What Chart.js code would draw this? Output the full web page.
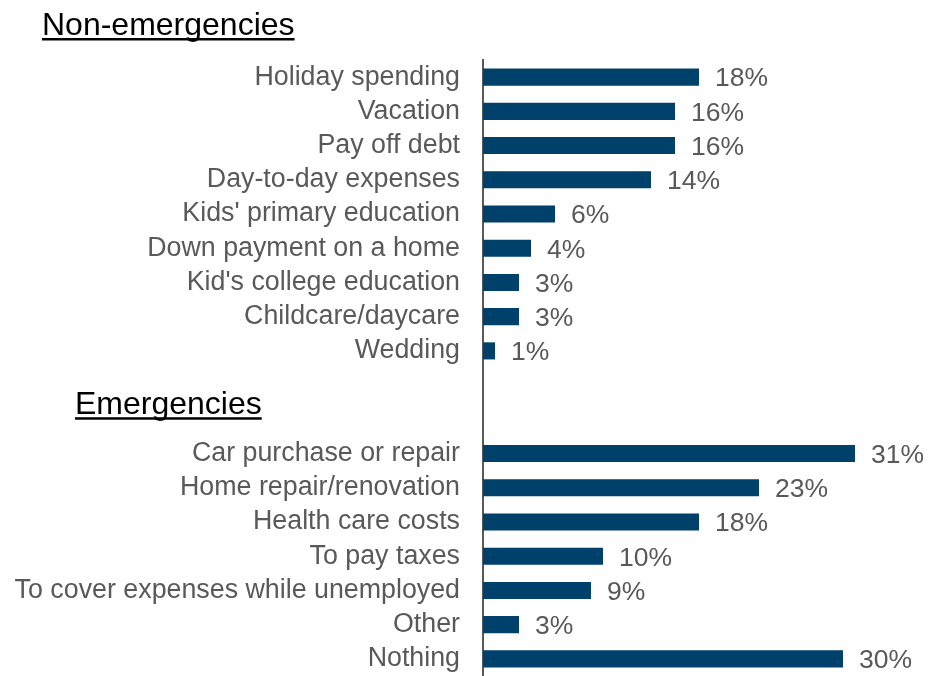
<!DOCTYPE html>
<html>
<head>
<meta charset="utf-8">
<script src="https://cdn.jsdelivr.net/npm/chart.js@4/dist/chart.umd.min.js"></script>
<style>
  html, body { margin: 0; padding: 0; background: #fff; overflow: hidden; }
  canvas { display: block; }
</style>
</head>
<body>
<canvas id="savingsChart" width="928" height="676"></canvas>
<script>
"use strict";

// categories (two blank rows leave room for the "Emergencies" heading)
const categories = [
  "Holiday spending", "Vacation", "Pay off debt", "Day-to-day expenses",
  "Kids' primary education", "Down payment on a home", "Kid's college education",
  "Childcare/daycare", "Wedding", "", "",
  "Car purchase or repair", "Home repair/renovation", "Health care costs",
  "To pay taxes", "To cover expenses while unemployed", "Other", "Nothing"
];
const percents = [18, 16, 16, 14, 6, 4, 3, 3, 1, null, null, 31, 23, 18, 10, 9, 3, 30];
const groupHeadings = ["Non-emergencies", "Emergencies"];

const barColor = "#00416b";
const textGray = "#595959";
const fontFamily = "'Liberation Sans', Arial, sans-serif";

// data labels + group headings
const labelsPlugin = {
  id: "labelsPlugin",
  afterDatasetsDraw(chart) {
    const ctx = chart.ctx;
    const meta = chart.getDatasetMeta(0);
    ctx.save();
    ctx.font = "26.5px " + fontFamily;
    ctx.fillStyle = textGray;
    ctx.textAlign = "left";
    ctx.textBaseline = "middle";
    meta.data.forEach((bar, i) => {
      if (percents[i] == null) return;
      ctx.fillText(percents[i] + "%", bar.x + 16, bar.y + 2);
    });

    // headings
    ctx.font = "32px " + fontFamily;
    ctx.fillStyle = "#000";
    ctx.textBaseline = "alphabetic";
    const yScale = chart.scales.y;
    const drawHeading = (text, x, y) => {
      ctx.fillText(text, x, y);
      const w = ctx.measureText(text).width;
      ctx.fillRect(x, y + 3, w, 2.5);
    };
    drawHeading(groupHeadings[0], 42, 35);
    const midY = (yScale.getPixelForValue(9) + yScale.getPixelForValue(10)) / 2;
    drawHeading(groupHeadings[1], 75, midY + 12);
    ctx.restore();
  }
};

const ctx = document.getElementById("savingsChart").getContext("2d");
const chart = new Chart(ctx, {
  type: "bar",
  data: {
    labels: categories,
    datasets: [{
      data: percents,
      backgroundColor: barColor,
      barPercentage: 0.5,
      categoryPercentage: 1.0
    }]
  },
  options: {
    indexAxis: "y",
    responsive: false,
    animation: false,
    layout: { padding: { top: 60, right: 1, bottom: 0, left: 0 } },
    plugins: {
      legend: { display: false },
      tooltip: { enabled: false }
    },
    scales: {
      x: {
        display: false,
        min: 0,
        max: 37
      },
      y: {
        afterFit(scale) {
          scale.width = 483;
          scale.paddingTop = 0;
          scale.paddingBottom = 0;
        },
        grid: { display: true, drawOnChartArea: false, drawTicks: false },
        border: { display: true, color: textGray, width: 2 },
        ticks: {
          color: textGray,
          padding: 23,
          autoSkip: false,
          font: { family: fontFamily, size: 26.8 }
        }
      }
    }
  },
  plugins: [labelsPlugin]
});
</script>
</body>
</html>
